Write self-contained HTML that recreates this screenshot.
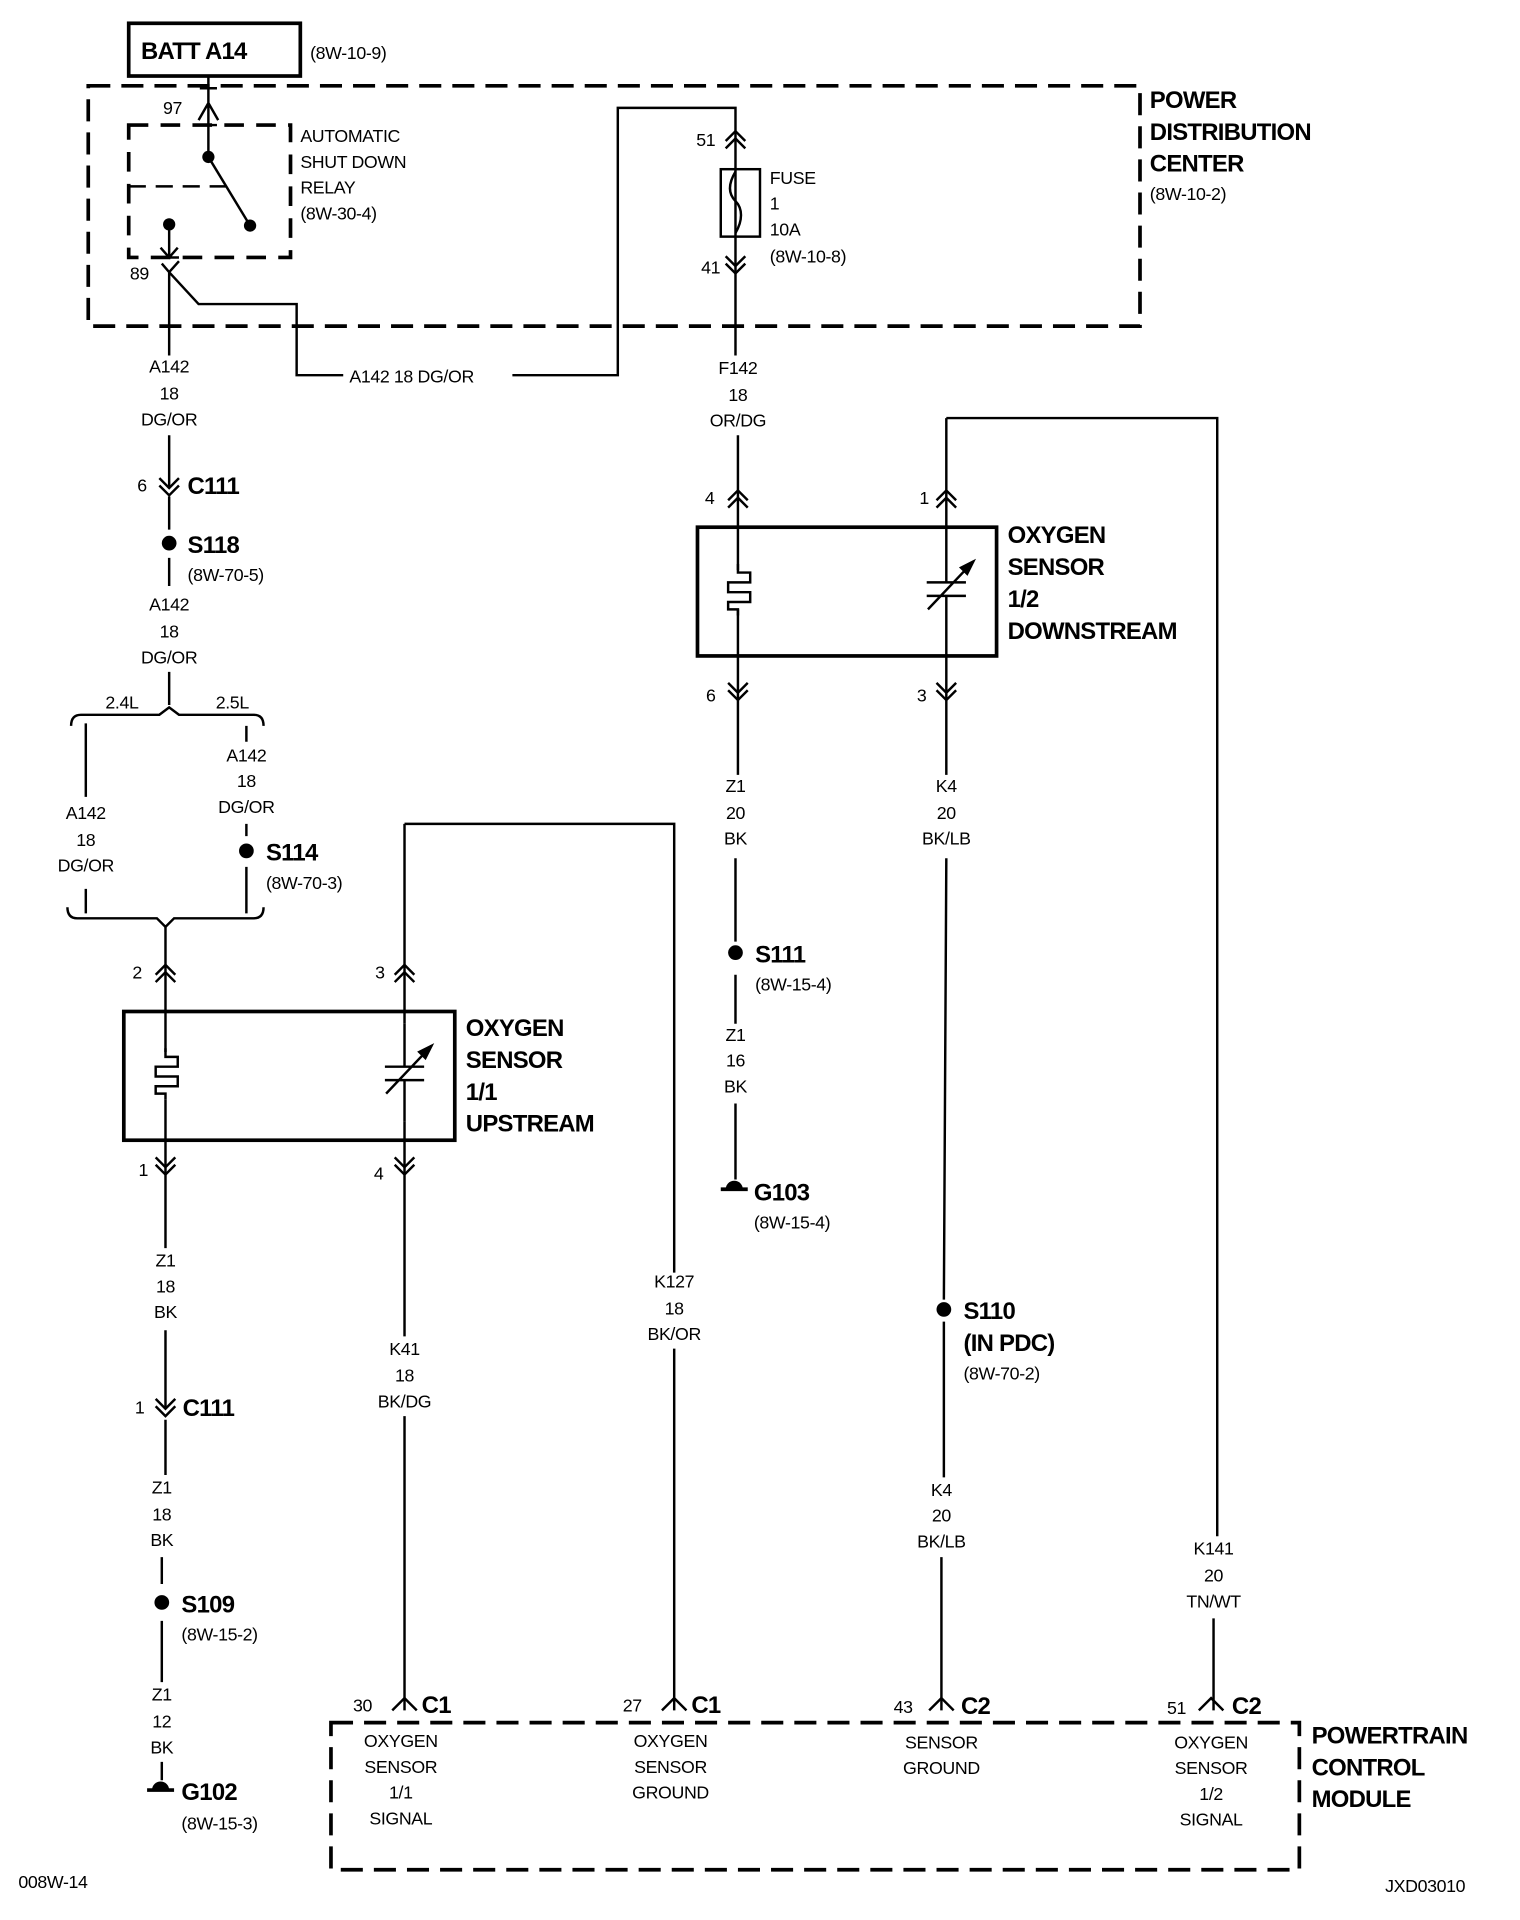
<!DOCTYPE html>
<html><head><meta charset="utf-8"><style>
html,body{margin:0;padding:0;background:#fff}
svg{display:block}
text{font-family:"Liberation Sans",sans-serif;font-size:14.5px;fill:#000;letter-spacing:-0.3px}
.b{font-weight:bold;font-size:19.5px;letter-spacing:-0.6px}
.m{text-anchor:middle}
</style></head><body>
<svg width="1520" height="1920" viewBox="0 0 1240 1566" preserveAspectRatio="none" xmlns="http://www.w3.org/2000/svg">
<defs>
<path id="dn" d="M-8,-9 L0,-1 L8,-9 M-8,-3 L0,5 L8,-3" fill="none" stroke="#000" stroke-width="2"/>
<path id="up" d="M-8,9 L0,1 L8,9 M-8,3 L0,-5 L8,3" fill="none" stroke="#000" stroke-width="2"/>
<g id="heat" fill="none" stroke="#000" stroke-width="2"><path d="M0,-20 L0,-13 L10,-13 L10,-5 L-8,-5 L-8,3 L10,3 L10,11 L-8,11 L-8,17 L0,17 L0,22"/></g>
<g id="var" fill="none" stroke="#000" stroke-width="2"><path d="M-16,-5 L16,-5 M-16,6 L16,6 M0,-40 L0,-5 M0,6 L0,40 M-15,17 L22,-22"/><path d="M22,-22 L12,-17 L17,-12 Z" fill="#000"/></g>
</defs>
<g fill="none" stroke="#000" stroke-width="2">
<rect x="105" y="19" width="140" height="43" stroke-width="3"/>
<rect x="72" y="70" width="858" height="196" stroke-width="3" stroke-dasharray="18,9"/>
<rect x="105" y="102" width="132" height="108" stroke-width="3" stroke-dasharray="16,10"/>
<rect x="270" y="1405" width="790" height="120" stroke-width="3" stroke-dasharray="18,9"/>
<rect x="101" y="825" width="270" height="105" stroke-width="3"/>
<rect x="569" y="430" width="244" height="105" stroke-width="3"/>
<rect x="588" y="138" width="32" height="55"/>
<path d="M170,62 L170,128 M163,72 L177,72 M162,98 L170,84 L178,98 M163,102 L177,102"/>
<path d="M170,128 L204,184"/>
<path d="M105,152 L185,152" stroke-dasharray="14,8"/>
<path d="M138,183 L138,210 M131,202 L138,210 L145,202 M130,210 L146,210"/>
<path d="M132,215 L138,222 L146,213 M138,222 L138,290 M138,222 L162,248 L242,248 L242,306 L280,306 M418,306 L504,306 L504,88 L600,88 L600,290"/>
<path d="M600,140 C594,150 594,158 600,164 C606,170 606,180 600,190"/>
<path d="M138,355 L138,397 M138,405 L138,432 M138,455 L138,478 M138,548 L138,575"/>
<path d="M58,592 Q58,583 66,583 L130,583 L138,577 L146,583 L207,583 Q215,583 215,592"/>
<path d="M70,590 L70,650 M70,725 L70,745 M201,592 L201,605 M201,672 L201,682 M201,707 L201,745"/>
<path d="M55,740 Q55,749 63,749 L128,749 L135,756 L142,749 L207,749 Q215,749 215,740"/>
<path d="M135,756 L135,858 M135,897 L135,1018 M135,1085 L135,1148 M135,1158 L135,1203 M132,1270 L132,1292 M132,1322 L132,1372 M132,1437 L132,1452"/>
<path d="M330,672 L550,672 L550,1038 M550,1100 L550,1395 M330,672 L330,835 M330,915 L330,1090 M330,1155 L330,1395"/>
<path d="M320,1395 L330,1385 L340,1395 M540,1395 L550,1385 L560,1395 M758,1395 L768,1385 L778,1395 M978,1395 L988,1385 L998,1395"/>
<path d="M602,355 L602,465 M602,497 L602,632 M600,700 L600,768 M600,795 L600,835 M600,900 L600,962"/>
<path d="M772,341 L993,341 L993,1253 M990,1320 L990,1395 M772,341 L772,440 M772,520 L772,632 M772,700 L770,1060 M770,1078 L770,1205 M768,1270 L768,1395"/>
<path d="M588,970 L610,970" stroke-width="3"/>
<path d="M120,1460 L142,1460" stroke-width="3"/>
</g>
<g fill="#000">
<circle cx="170" cy="128" r="5"/><circle cx="204" cy="184" r="5"/><circle cx="138" cy="183" r="5"/>
<circle cx="138" cy="443" r="6"/><circle cx="201" cy="694" r="6"/><circle cx="132" cy="1307" r="6"/>
<circle cx="600" cy="777" r="6"/><circle cx="770" cy="1068" r="6"/>
<path d="M592,970 A7,7 0 0 1 606,970 Z"/><path d="M124,1460 A7,7 0 0 1 138,1460 Z"/>
</g>
<use href="#up" x="600" y="112"/><use href="#dn" x="600" y="218"/>
<use href="#dn" x="138" y="399"/><use href="#up" x="135" y="792"/><use href="#up" x="330" y="792"/>
<use href="#dn" x="135" y="953"/><use href="#dn" x="330" y="953"/><use href="#dn" x="135" y="1150"/>
<use href="#up" x="602" y="405"/><use href="#up" x="772" y="405"/><use href="#dn" x="602" y="566"/><use href="#dn" x="772" y="566"/>
<use href="#heat" x="135" y="875"/><use href="#heat" x="602" y="480"/>
<use href="#var" x="330" y="875"/><use href="#var" x="772" y="480"/>

<text class="b" x="115" y="48">BATT A14</text><text x="253" y="48">(8W-10-9)</text>
<text class="b" x="938" y="88">POWER</text><text class="b" x="938" y="114">DISTRIBUTION</text><text class="b" x="938" y="140">CENTER</text><text x="938" y="163">(8W-10-2)</text>
<text x="133" y="93">97</text><text x="106" y="228">89</text>
<text x="245" y="116">AUTOMATIC</text><text x="245" y="137">SHUT DOWN</text><text x="245" y="158">RELAY</text><text x="245" y="179">(8W-30-4)</text>
<text x="568" y="119">51</text><text x="572" y="223">41</text>
<text x="628" y="150">FUSE</text><text x="628" y="171">1</text><text x="628" y="192">10A</text><text x="628" y="214">(8W-10-8)</text>
<text x="285" y="312">A142   18 DG/OR</text>
<text class="m" x="138" y="304">A142</text><text class="m" x="138" y="326">18</text><text class="m" x="138" y="347">DG/OR</text>
<text class="m" x="138" y="498">A142</text><text class="m" x="138" y="520">18</text><text class="m" x="138" y="541">DG/OR</text>
<text class="m" x="70" y="668">A142</text><text class="m" x="70" y="690">18</text><text class="m" x="70" y="711">DG/OR</text>
<text class="m" x="201" y="621">A142</text><text class="m" x="201" y="642">18</text><text class="m" x="201" y="663">DG/OR</text>
<text class="m" x="135" y="1033">Z1</text><text class="m" x="135" y="1054">18</text><text class="m" x="135" y="1075">BK</text>
<text class="m" x="132" y="1218">Z1</text><text class="m" x="132" y="1240">18</text><text class="m" x="132" y="1261">BK</text>
<text class="m" x="132" y="1387">Z1</text><text class="m" x="132" y="1409">12</text><text class="m" x="132" y="1430">BK</text>
<text class="m" x="330" y="1105">K41</text><text class="m" x="330" y="1127">18</text><text class="m" x="330" y="1148">BK/DG</text>
<text class="m" x="550" y="1050">K127</text><text class="m" x="550" y="1072">18</text><text class="m" x="550" y="1093">BK/OR</text>
<text class="m" x="602" y="305">F142</text><text class="m" x="602" y="327">18</text><text class="m" x="602" y="348">OR/DG</text>
<text class="m" x="600" y="646">Z1</text><text class="m" x="600" y="668">20</text><text class="m" x="600" y="689">BK</text>
<text class="m" x="600" y="849">Z1</text><text class="m" x="600" y="870">16</text><text class="m" x="600" y="891">BK</text>
<text class="m" x="772" y="646">K4</text><text class="m" x="772" y="668">20</text><text class="m" x="772" y="689">BK/LB</text>
<text class="m" x="768" y="1220">K4</text><text class="m" x="768" y="1241">20</text><text class="m" x="768" y="1262">BK/LB</text>
<text class="m" x="990" y="1268">K141</text><text class="m" x="990" y="1290">20</text><text class="m" x="990" y="1311">TN/WT</text>
<text class="m" x="327" y="1425">OXYGEN</text><text class="m" x="327" y="1446">SENSOR</text><text class="m" x="327" y="1467">1/1</text><text class="m" x="327" y="1488">SIGNAL</text>
<text class="m" x="547" y="1425">OXYGEN</text><text class="m" x="547" y="1446">SENSOR</text><text class="m" x="547" y="1467">GROUND</text>
<text class="m" x="768" y="1426">SENSOR</text><text class="m" x="768" y="1447">GROUND</text>
<text class="m" x="988" y="1426">OXYGEN</text><text class="m" x="988" y="1447">SENSOR</text><text class="m" x="988" y="1468">1/2</text><text class="m" x="988" y="1489">SIGNAL</text>
<text x="112" y="401">6</text><text class="b" x="153" y="403">C111</text>
<text class="b" x="153" y="451">S118</text><text x="153" y="474">(8W-70-5)</text>
<text x="86" y="578">2.4L</text><text x="176" y="578">2.5L</text>
<text class="b" x="217" y="702">S114</text><text x="217" y="725">(8W-70-3)</text>
<text x="108" y="798">2</text><text x="306" y="798">3</text>
<text class="b" x="380" y="845">OXYGEN</text><text class="b" x="380" y="871">SENSOR</text><text class="b" x="380" y="897">1/1</text><text class="b" x="380" y="923">UPSTREAM</text>
<text x="113" y="959">1</text><text x="305" y="962">4</text>
<text x="110" y="1153">1</text><text class="b" x="149" y="1155">C111</text>
<text class="b" x="148" y="1315">S109</text><text x="148" y="1338">(8W-15-2)</text>
<text class="b" x="148" y="1468">G102</text><text x="148" y="1492">(8W-15-3)</text>
<text x="288" y="1396">30</text><text class="b" x="344" y="1397">C1</text>
<text x="508" y="1396">27</text><text class="b" x="564" y="1397">C1</text>
<text x="729" y="1397">43</text><text class="b" x="784" y="1398">C2</text>
<text x="952" y="1398">51</text><text class="b" x="1005" y="1398">C2</text>
<text class="b" x="1070" y="1422">POWERTRAIN</text><text class="b" x="1070" y="1448">CONTROL</text><text class="b" x="1070" y="1474">MODULE</text>
<text x="575" y="411">4</text><text x="750" y="411">1</text>
<text class="b" x="822" y="443">OXYGEN</text><text class="b" x="822" y="469">SENSOR</text><text class="b" x="822" y="495">1/2</text><text class="b" x="822" y="521">DOWNSTREAM</text>
<text x="576" y="572">6</text><text x="748" y="572">3</text>
<text class="b" x="616" y="785">S111</text><text x="616" y="808">(8W-15-4)</text>
<text class="b" x="615" y="979">G103</text><text x="615" y="1002">(8W-15-4)</text>
<text class="b" x="786" y="1076">S110</text><text class="b" x="786" y="1102">(IN PDC)</text><text x="786" y="1125">(8W-70-2)</text>
<text x="15" y="1540">008W-14</text><text x="1130" y="1543">JXD03010</text>
</svg>
</body></html>
